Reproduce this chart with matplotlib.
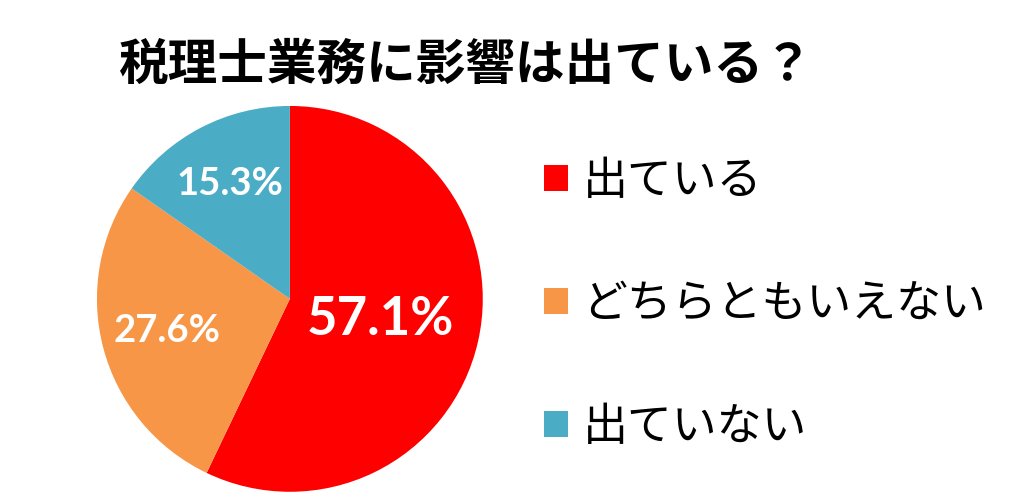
import matplotlib.pyplot as plt
import numpy as np

plt.rcParams['font.family'] = ['Noto Sans CJK JP', 'DejaVu Sans']

title = '税理士業務に影響は出ている？'
labels = ['出ている', 'どちらともいえない', '出ていない']
shares = [57.1, 27.6, 15.3]
colors = ['#FF0000', '#F79646', '#4BACC6']

fig = plt.figure(figsize=(10.1, 5.04), dpi=100)
ax = fig.add_axes([0.096, 0.024, 0.382, 0.766])

wedges, _ = ax.pie(shares, colors=colors, startangle=90, counterclock=False,
                   radius=1, wedgeprops=dict(linewidth=0))
ax.set_xlim(-1, 1)
ax.set_ylim(-1, 1)
ax.set_aspect('equal')
ax.axis('off')

# percentage labels, placed along each wedge's mid-angle
label_dist = [0.48, 0.66, 0.67]
label_size = [38, 27.5, 27.5]
for w, v, d, s in zip(wedges, shares, label_dist, label_size):
    mid = np.deg2rad((w.theta1 + w.theta2) / 2)
    ax.text(d * np.cos(mid), d * np.sin(mid), f'{v:.1f}%', ha='center', va='center',
            color='white', fontsize=s, fontweight='bold', family=['Lato', 'DejaVu Sans'])

fig.text(0.462, 0.87, title, ha='center', va='center', fontsize=35.7, fontweight='bold')

fig.legend(wedges, labels, loc='center left', bbox_to_anchor=(544 / 1010, 200 / 504),
           frameon=False, fontsize=32.3, handlelength=0.53, handleheight=0.53,
           handletextpad=0.33, labelspacing=1.72, borderpad=0, borderaxespad=0)

fig.savefig('out.png', dpi=100, facecolor='white')
